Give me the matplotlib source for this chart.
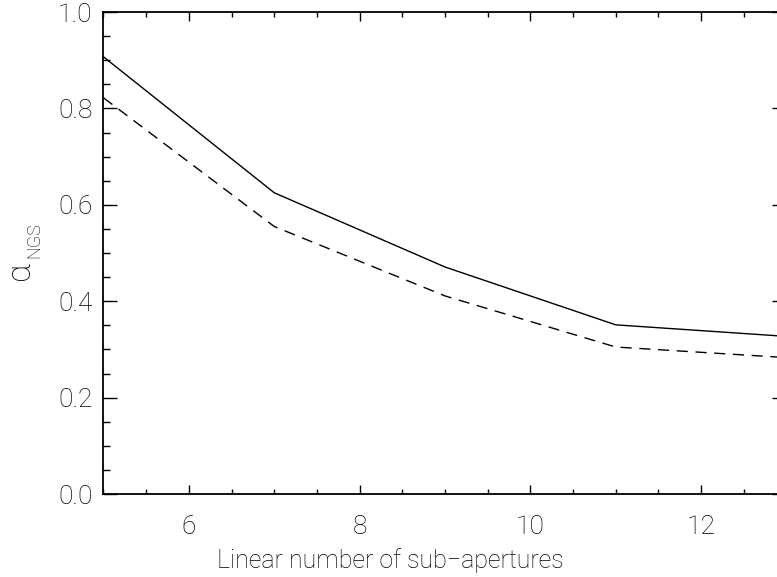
import matplotlib
matplotlib.use('Agg')
from matplotlib import pyplot as plt
from matplotlib.ticker import MultipleLocator

# values
n_subap = [5, 7, 9, 11, 13]
alpha_solid = [0.907, 0.625, 0.471, 0.351, 0.327]
alpha_dashed = [0.822, 0.555, 0.411, 0.305, 0.283]

x_ticks = [6, 8, 10, 12]
y_ticks = [0.0, 0.2, 0.4, 0.6, 0.8, 1.0]

plt.rcParams['font.family'] = ['Roboto', 'DejaVu Sans']
plt.rcParams['font.weight'] = 'light'
text_col = 'black'

fig = plt.figure(figsize=(7.77, 5.77), dpi=100)
# axes run past the right edge, as in the cropped original
ax = fig.add_axes([0.1332, 0.1438, 0.879, 0.8354])

ax.plot(n_subap, alpha_solid, color='black', lw=1.0)
ax.plot(n_subap, alpha_dashed, color='black', lw=1.0, dashes=(8, 5.5))

ax.set_xlim(5, 13)
ax.set_ylim(0.0, 1.0)
ax.set_xticks(x_ticks)
ax.set_yticks(y_ticks)
ax.set_yticklabels(['%.1f' % v for v in y_ticks])
ax.xaxis.set_minor_locator(MultipleLocator(0.5))
ax.yaxis.set_minor_locator(MultipleLocator(0.05))

ax.tick_params(axis='x', which='major', direction='in', length=6.8, width=1.0,
               top=True, pad=15, labelsize=19, labelcolor=text_col)
ax.tick_params(axis='x', which='minor', direction='in', length=3.3, width=1.0, top=True)
ax.tick_params(axis='y', which='major', direction='in', length=10, width=1.0,
               right=True, pad=8, labelsize=19, labelcolor=text_col)
ax.tick_params(axis='y', which='minor', direction='in', length=5, width=1.0, right=True)

for s in ax.spines.values():
    s.set_linewidth(1.3)

# axis titles placed where the original has them
fig.text(390 / 777, 1 - 561 / 577, 'Linear number of sub\u2212apertures',
         fontsize=18, color=text_col, ha='center', va='center')
fig.text(20 / 777, 1 - 271 / 577, '\u03b1',
         fontsize=24, color=text_col, ha='center', va='center', rotation=90)
fig.text(34 / 777, 1 - 240 / 577, 'NGS',
         fontsize=13, color=text_col, ha='center', va='center', rotation=90)

fig.savefig('out.png', dpi=100)
